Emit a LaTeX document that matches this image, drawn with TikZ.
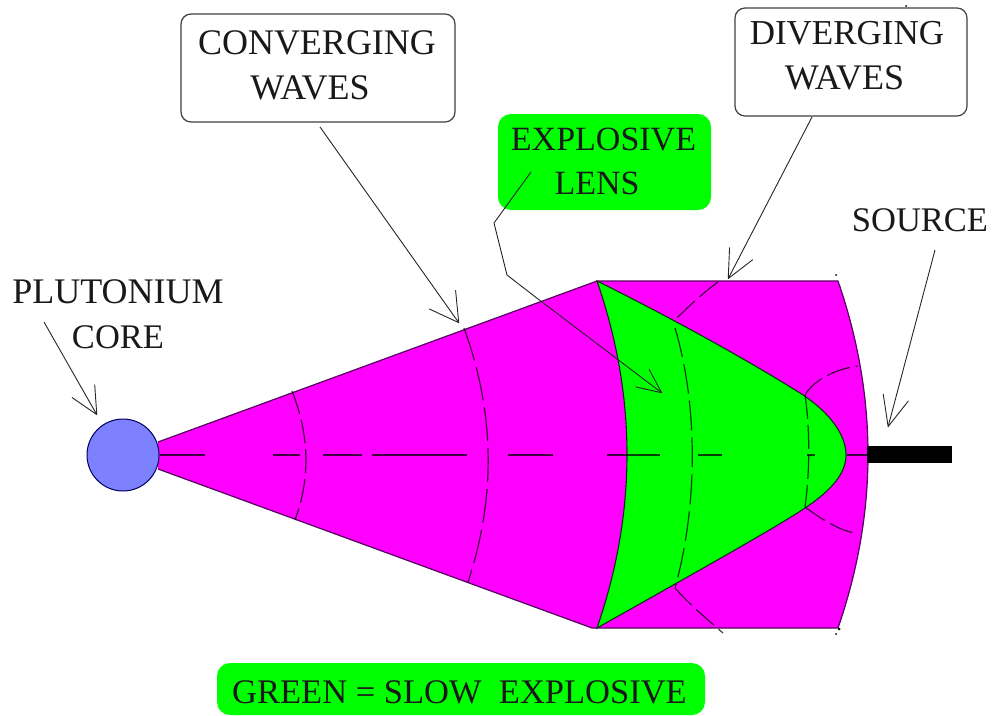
\documentclass[tikz,border=0pt]{standalone}
\usepackage{fontspec}
\setmainfont{Liberation Serif}
\usetikzlibrary{arrows.meta}
\definecolor{mag}{RGB}{255,0,255}
\definecolor{grn}{RGB}{0,255,0}
\definecolor{corecol}{RGB}{125,128,255}
\definecolor{edgemag}{RGB}{85,0,95}
\definecolor{edgegrn}{RGB}{10,50,20}
\tikzset{
  lbl/.style={anchor=base,inner sep=0pt,outer sep=0pt,text=black!90,font=\fontsize{#1}{40}\selectfont},
  whitebox/.style={draw=black!75,line width=1.2pt,fill=white,rounded corners=10pt,inner sep=0pt,outer sep=0pt},
  greenbox/.style={fill=grn,rounded corners=13pt,inner sep=0pt,outer sep=0pt},
  leader/.style={draw=black!85,line width=0.9pt},
  wave/.style={draw=black,draw opacity=0.75,line width=1.2pt,dash pattern=on 24pt off 6pt},
  barb/.style 2 args={-{Straight Barb[length=#1pt,width=#2pt,round,line width=0.9pt]}},
  speck/.style={fill=black,circle,inner sep=0pt,minimum size=#1pt}
}
\begin{document}
\begin{tikzpicture}[x=1pt,y=-1pt]
\useasboundingbox (0,0) rectangle (995,715);
% magenta body
\path[fill=mag] (158,442) -- (597,281) -- (838,281)
  .. controls (878,397) and (878,512) .. (838,628)
  -- (592,628) -- (158,469) -- cycle;
% green lens
\path[fill=grn] (597,281) .. controls (637,397) and (637,512) .. (597,628)
  .. controls (700,570) and (780,525) .. (805,508)
  .. controls (832,490) and (846,473) .. (846,455)
  .. controls (846,435) and (830,413) .. (803,395)
  .. controls (780,380) and (700,332) .. (597,281) -- cycle;
% body outline
\draw[edgemag,line width=1.2pt] (158,442) -- (597,281) -- (838,281)
  .. controls (878,397) and (878,512) .. (838,628)
  -- (592,628) -- (158,469);
% lens outline
\draw[edgegrn,line width=1.1pt] (597,281) .. controls (637,397) and (637,512) .. (597,628)
  .. controls (700,570) and (780,525) .. (805,508)
  .. controls (832,490) and (846,473) .. (846,455)
  .. controls (846,435) and (830,413) .. (803,395)
  .. controls (780,380) and (700,332) .. (597,281) -- cycle;
% axis
\draw[draw=black,draw opacity=0.75,line width=1.2pt,
  dash pattern=on 45pt off 68pt on 27pt off 23pt on 39pt off 10pt on 95pt off 41pt on 45pt off 54pt on 53pt off 38pt on 24pt off 85pt on 8pt off 32pt on 20pt off 100pt]
  (160,455) -- (867,455);
% waves
\draw[wave] (292,391) .. controls (309,434) and (311,477) .. (295,520);
\draw[wave,dash pattern=on 34pt off 7pt] (464,328) .. controls (495,413) and (496,497) .. (468,582);
\draw[wave] (718,282) .. controls (703,293) and (690,305) .. (675,320);
\draw[wave,dash pattern=on 30pt off 7pt] (675,328) .. controls (698,405) and (698,505) .. (675,588);
\draw[wave] (675,588) .. controls (690,605) and (708,620) .. (723,633);
\draw[wave] (805,395) .. controls (815,378) and (840,368) .. (858,366);
\draw[wave] (805,395) .. controls (810,430) and (810,470) .. (805,507);
\draw[wave] (805,507) .. controls (825,522) and (845,533) .. (858,533);
% stem
\node[fill=black,inner sep=0pt,outer sep=0pt,minimum width=85pt,minimum height=17pt] (stem) at (909.5,454.5) {};
% core
\node[circle,fill=corecol,draw=black!55!blue!80!black,line width=1pt,minimum size=72pt,inner sep=0pt,outer sep=0pt] (core) at (123,455) {};
% boxes
\node[whitebox,minimum width=274pt,minimum height=108pt] (convbox) at (318,68) {};
\node[whitebox,minimum width=232pt,minimum height=108pt] (divbox) at (851,62) {};
\node[greenbox,minimum width=213pt,minimum height=96pt] (lensbox) at (604.5,162) {};
\node[greenbox,minimum width=488pt,minimum height=52pt] (keybox) at (461,689) {};
% labels
\node[lbl=36] (t1) at (317,54) {CONVERGING};
\node[lbl=36] (t2) at (310,99) {WAVES};
\node[lbl=34] (t3) at (603.5,150) {EXPLOSIVE};
\node[lbl=34] (t4) at (597,194) {LENS};
\node[lbl=35] (t5) at (847,44) {DIVERGING};
\node[lbl=36] (t6) at (844.5,89) {WAVES};
\node[lbl=34.5] (t7) at (920,231) {SOURCE};
\node[lbl=36] (t8) at (118,303) {PLUTONIUM};
\node[lbl=34.5] (t9) at (118,348) {CORE};
\node[lbl=34.5] (t10) at (459.5,703) {GREEN = SLOW\ \ EXPLOSIVE};
% leaders
\coordinate (convS) at (320,127);
\coordinate (convT) at (459,323);
\coordinate (divS) at (812,117);
\coordinate (divT) at (728,279);
\coordinate (srcS) at (935,250);
\coordinate (srcT) at (888,427);
\coordinate (coreS) at (44,322);
\coordinate (coreT) at (97,415);
\coordinate (lensS) at (531,172);
\coordinate (lensA) at (494,223);
\coordinate (lensB) at (507,275);
\coordinate (lensC) at (538,299);
\coordinate (lensT) at (662,393);
\draw[leader,barb={28}{32}] (convS) -- (convT);
\draw[leader,barb={28}{26}] (divS) -- (divT);
\draw[leader,barb={30}{26}] (srcS) -- (srcT);
\draw[leader,barb={27}{26}] (coreS) -- (coreT);
\draw[leader,barb={24}{22}] (lensS) -- (lensA) -- (lensB) -- (lensC) -- (lensT);
% specks
\node[speck=2] (s1) at (836,275) {};
\node[speck=2] (s2) at (836,634) {};
\node[speck=3] (s3) at (839,629) {};
\node[speck=2] (s4) at (906,6) {};
\end{tikzpicture}
\end{document}
